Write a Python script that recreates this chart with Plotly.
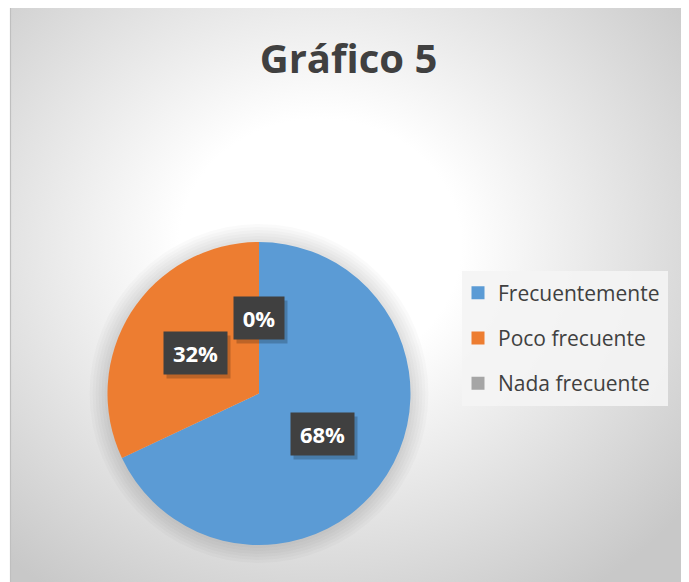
import math
import plotly.graph_objects as go

# ---------------- data ----------------
title_text = "Gráfico 5"
categories = ["Frecuentemente", "Poco frecuente", "Nada frecuente"]
percent_values = [68, 32, 0]
slice_colors = ["#5B9BD5", "#ED7D31", "#A5A5A5"]
label_texts = [f"{v}%" for v in percent_values]

# ---------------- geometry (page pixels) ----------------
PAGE_W, PAGE_H = 689, 582
OFF = 8                                        # browser body margin
W, H = PAGE_W - OFF, PAGE_H - OFF              # figure size
FX0, FX1, FY0, FY1 = 11, 683, 8, 582           # chart frame (page px)
PIE_CX, PIE_CY, PIE_R = 259, 393.5, 151.5      # pie centre/radius (page px)
FONT = "Open Sans"
TXT = "#404040"


def px(x):
    return (x - OFF) / W


def py(y):
    return 1 - (y - OFF) / H


def dom_for_radius(r):
    return dict(x=[px(PIE_CX - r), px(PIE_CX + r)],
                y=[py(PIE_CY + r), py(PIE_CY - r)])


fig = go.Figure()

# background radial gradient (page-pixel cartesian axes)
gx, gy, ga, gb = 320, 245, 470, 420
fig.add_trace(go.Scatter(
    x=[gx - ga, gx + ga, gx + ga, gx - ga, gx - ga],
    y=[gy - gb, gy - gb, gy + gb, gy + gb, gy - gb],
    fill="toself", mode="none",
    fillgradient=dict(type="radial",
                      colorscale=[[0, "#ffffff"], [0.3, "#ffffff"],
                                  [0.62, "#e6e6e6"], [1, "#c8c8c8"]]),
    hoverinfo="skip", showlegend=False))

# soft shadow halo around the pie
for k in range(6, 0, -1):
    fig.add_trace(go.Pie(values=[1], labels=["halo"], sort=False,
                         marker=dict(colors=["rgba(0,0,0,0.018)"], line=dict(width=0)),
                         domain=dom_for_radius(PIE_R + 3 * k),
                         textinfo="none", hoverinfo="skip", showlegend=False))

# main pie
fig.add_trace(go.Pie(
    labels=categories, values=percent_values, sort=False,
    direction="clockwise", rotation=0,
    marker=dict(colors=slice_colors, line=dict(width=0)),
    domain=dom_for_radius(PIE_R),
    textinfo="none", showlegend=False))

# legend entries (one group each so the spacing can be set)
for cat, col in zip(categories, slice_colors):
    fig.add_trace(go.Scatter(
        x=[None], y=[None], mode="markers", name=cat, legendgroup=cat,
        marker=dict(symbol="square", size=13, color=col)))

# data labels placed at half radius on each slice's mid angle
total = sum(percent_values)
annotations = []
cum = 0
for v, t in zip(percent_values, label_texts):
    mid = (cum + v / 2) / total * 2 * math.pi
    cum += v
    lx = PIE_CX + 0.5 * PIE_R * math.sin(mid)
    ly = PIE_CY - 0.5 * PIE_R * math.cos(mid)
    bw = 13 * len(t) + 24
    # drop shadow box
    annotations.append(dict(x=lx, y=ly, xref="x", yref="y", text=" ", showarrow=False,
                            width=bw, height=42, borderpad=0,
                            bgcolor="rgba(0,0,0,0.2)", font=dict(size=22),
                            xshift=3, yshift=-4))
    annotations.append(dict(x=lx, y=ly, xref="x", yref="y", text=f"<b>{t}</b>", showarrow=False,
                            width=bw, height=42, borderpad=0, align="center", valign="middle",
                            bgcolor="#404040", font=dict(family=FONT, color="#ffffff", size=22)))

fig.update_layout(
    width=W, height=H,
    margin=dict(l=0, r=0, t=0, b=0),
    paper_bgcolor="#ffffff", plot_bgcolor="rgba(0,0,0,0)",
    xaxis=dict(range=[FX0, FX1], domain=[px(FX0), min(1, px(FX1))], visible=False, fixedrange=True),
    yaxis=dict(range=[FY1, FY0], domain=[max(0, py(FY1)), py(FY0)], visible=False, fixedrange=True),
    title=dict(text=f"<b>{title_text}</b>", x=px((FX0 + FX1) / 2 + 1.5), xanchor="center",
               y=py(59), yanchor="middle",
               font=dict(family=FONT, size=40, color=TXT)),
    showlegend=True,
    legend=dict(x=px(458), y=py(272.5), xanchor="left", yanchor="top",
                bgcolor="rgba(0,0,0,0)", tracegroupgap=15,
                font=dict(family=FONT, size=21, color=TXT)),
    shapes=[
        dict(type="rect", xref="paper", yref="paper", x0=px(462), x1=px(668),
             y0=py(406), y1=py(271), fillcolor="rgba(244,244,244,0.9)",
             line=dict(width=0), layer="above"),
        dict(type="rect", xref="paper", yref="paper", x0=px(FX0 - 0.5), x1=px(FX1 + 0.5),
             y0=-0.05, y1=py(FY0 - 0.5), line=dict(color="#bfbfbf", width=1.2)),
    ],
    annotations=annotations,
)

fig.write_html("out.html")
